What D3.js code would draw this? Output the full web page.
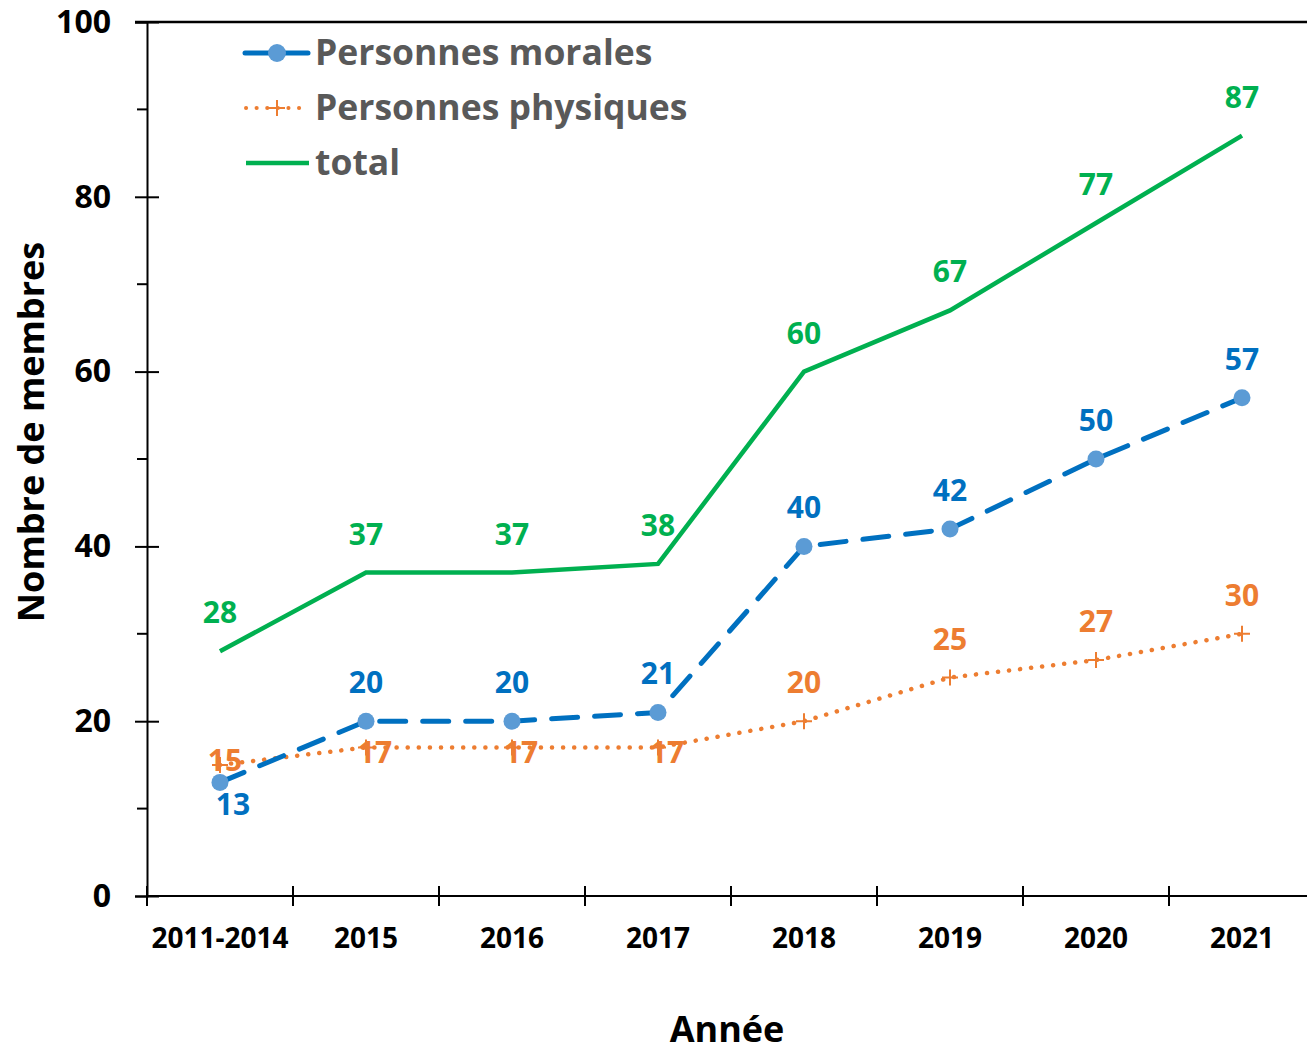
<!DOCTYPE html>
<html><head><meta charset="utf-8">
<script src="https://cdn.jsdelivr.net/npm/d3@7"></script>
<style>body{margin:0;background:#fff}svg{display:block}text{font-family:"Open Sans",Lato,sans-serif;font-weight:700}</style>
</head><body><svg id="c" width="1307" height="1052"></svg>
<script>
const categories = ["2011-2014","2015","2016","2017","2018","2019","2020","2021"];
const morales   = [13,20,20,21,40,42,50,57];
const physiques = [15,17,17,17,20,25,27,30];
const total     = [28,37,37,38,60,67,77,87];
const seriesNames = ["Personnes morales","Personnes physiques","total"];
const yTicks = [0,20,40,60,80,100];
// label placement per point: "a"=above, "b"=below, "c"=on the point, "cu"=on the point, slightly raised
const moralesPlace   = ["b","a","a","a","a","a","a","a"];
const physiquesPlace = ["cu","c","c","c","a","a","a","a"];
const totalPlace     = ["a","a","a","a","a","a","a","a"];

const svg = d3.select("#c");
const pL=147, pR=1315, pT=22, pB=896;
const x = d3.scaleBand().domain(categories).range([pL,pR]);
const y = d3.scaleLinear().domain([0,100]).range([pB,pT]);
const cx = d => x(d)+x.bandwidth()/2;

const blue="#0070C0", blueM="#5B9BD5", orange="#ED7D31", green="#00B050";
const FF = "'Open Sans'";

// top border
svg.append("line").attr("x1",135).attr("x2",1307).attr("y1",pT).attr("y2",pT).attr("stroke","#000").attr("stroke-width",2.5);
// y axis
const ya = svg.append("g").attr("transform",`translate(${pL},0)`)
  .call(d3.axisLeft(y).tickValues(yTicks).tickSize(12).tickPadding(24));
ya.select(".domain").attr("stroke","#000").attr("stroke-width",2);
ya.selectAll(".tick line").attr("stroke","#000").attr("stroke-width",2).attr("x2",-12).attr("x1",12);
ya.selectAll(".tick text").attr("font-size",32).attr("fill","#000").attr("font-family",FF).attr("font-weight",700);
// minor ticks
svg.append("g").selectAll("line").data(d3.range(10,100,20)).join("line")
  .attr("x1",pL-10).attr("x2",pL).attr("y1",d=>y(d)).attr("y2",d=>y(d)).attr("stroke","#000").attr("stroke-width",2);
// x axis
const xa = svg.append("g").attr("transform",`translate(0,${pB})`)
  .call(d3.axisBottom(x).tickSize(0).tickPadding(32));
xa.select(".domain").attr("stroke","#000").attr("stroke-width",2).attr("d",`M${pL},0H1307`);
xa.selectAll(".tick text").attr("font-size",28).attr("fill","#000").attr("font-family",FF).attr("font-weight",700);
svg.append("g").selectAll("line").data(categories.slice(1).map(c=>x(c)).concat([pL])).join("line")
  .attr("x1",d=>d).attr("x2",d=>d).attr("y1",pB-10).attr("y2",pB+10).attr("stroke","#000").attr("stroke-width",2);

// axis titles
svg.append("text").attr("x",727).attr("y",1042).attr("text-anchor","middle").attr("font-size",36).attr("fill","#000").text("Année");
svg.append("text").attr("transform","translate(44,432) rotate(-90)").attr("text-anchor","middle").attr("font-size",36).attr("fill","#000").text("Nombre de membres");

const line = d3.line().x((d,i)=>cx(categories[i])).y(d=>y(d));
// total
svg.append("path").attr("d",line(total)).attr("fill","none").attr("stroke",green).attr("stroke-width",4.5);
// physiques
svg.append("path").attr("d",line(physiques)).attr("fill","none").attr("stroke",orange).attr("stroke-width",4.5)
  .attr("stroke-dasharray","0.1 11").attr("stroke-linecap","round");
svg.append("g").selectAll("path").data(physiques).join("path")
  .attr("d",(d,i)=>{const px=cx(categories[i]),py=y(d);return `M${px-8},${py}H${px+8}M${px},${py-8}V${py+8}`;})
  .attr("stroke",orange).attr("stroke-width",2);
// morales
svg.append("path").attr("d",line(morales)).attr("fill","none").attr("stroke",blue).attr("stroke-width",5)
  .attr("stroke-dasharray","26 17").attr("stroke-linecap","round");
svg.append("g").selectAll("circle").data(morales).join("circle")
  .attr("cx",(d,i)=>cx(categories[i])).attr("cy",d=>y(d)).attr("r",8.5).attr("fill",blueM);

// labels
const offs = {a:[0,-28], b:[13,33], c:[9,16], cu:[5,6]};
function labels(vals, place, color){
  svg.append("g").selectAll("text").data(vals).join("text")
    .attr("x",(d,i)=>cx(categories[i]) + offs[place[i]][0])
    .attr("y",(d,i)=>y(d) + offs[place[i]][1])
    .attr("text-anchor","middle").attr("font-size",30).attr("fill",color).text(d=>d);
}
labels(total,totalPlace,green);
labels(morales,moralesPlace,blue);
labels(physiques,physiquesPlace,orange);

// legend
const lg = svg.append("g");
const ly = [53,108,163];
lg.append("line").attr("x1",245).attr("x2",308).attr("y1",ly[0]).attr("y2",ly[0]).attr("stroke",blue).attr("stroke-width",5).attr("stroke-linecap","round");
lg.append("circle").attr("cx",277).attr("cy",ly[0]).attr("r",9).attr("fill",blueM);
lg.append("line").attr("x1",246).attr("x2",308).attr("y1",ly[1]).attr("y2",ly[1]).attr("stroke",orange).attr("stroke-width",4).attr("stroke-dasharray","0.1 10.5").attr("stroke-linecap","round");
lg.append("path").attr("d",`M269,${ly[1]}H285M277,${ly[1]-8}V${ly[1]+8}`).attr("stroke",orange).attr("stroke-width",2);
lg.append("line").attr("x1",246).attr("x2",309).attr("y1",ly[2]).attr("y2",ly[2]).attr("stroke",green).attr("stroke-width",4.5);
lg.selectAll("text.l").data(seriesNames).join("text").attr("class","l")
  .attr("x",315).attr("y",(d,i)=>ly[i]+12).attr("font-size",35.5).attr("fill","#595959").text(d=>d);
</script></body></html>
